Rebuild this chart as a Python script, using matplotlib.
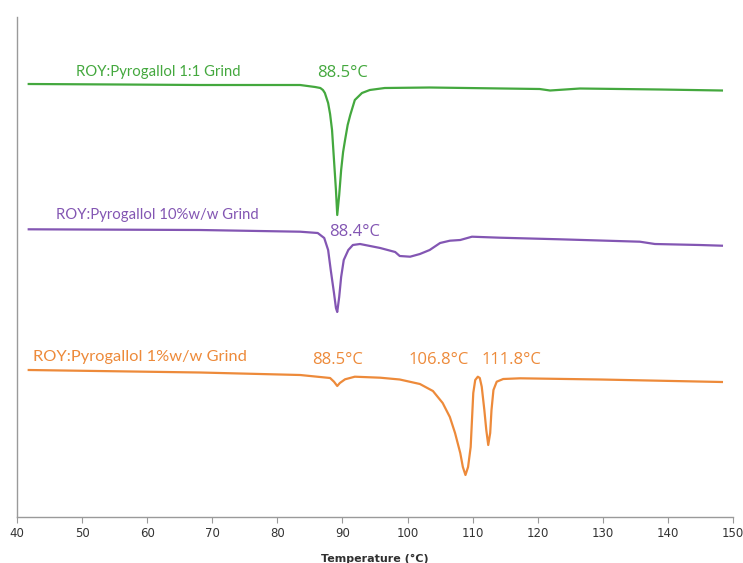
import matplotlib
matplotlib.use("Agg")
import matplotlib.pyplot as plt

# DSC traces, temperature (°C) vs heat flow (arbitrary, endo down, stacked offsets)
t_11 = [41.8, 55.8, 68.1, 83.5, 85.8, 86.6, 87.0, 87.3, 87.8, 88.1, 88.4, 88.7,
        89.0, 89.2, 89.5, 89.8, 90.1, 90.4, 90.8, 91.2, 91.9, 93.0, 94.2, 96.5,
        103.4, 120.3, 121.9, 126.5, 138.8, 148.3]
hf_11 = [43.3, 43.25, 43.2, 43.2, 43.0, 42.9, 42.7, 42.4, 41.4, 40.3, 38.7, 35.7,
         32.7, 30.2, 32.2, 34.7, 36.5, 37.7, 39.2, 40.2, 41.7, 42.4, 42.7, 42.9,
         42.95, 42.8, 42.65, 42.85, 42.75, 42.65]

t_10 = [41.8, 68.1, 83.5, 86.2, 87.2, 87.8, 88.2, 88.7, 89.0, 89.2, 89.5, 89.8,
        90.2, 90.9, 91.6, 92.7, 95.8, 98.1, 98.8, 100.4, 101.9, 103.4, 105.0,
        106.5, 108.1, 109.9, 114.2, 123.4, 135.7, 138.0, 144.9, 148.3]
hf_10 = [28.77, 28.7, 28.53, 28.4, 27.9, 26.7, 24.7, 22.4, 20.9, 20.5, 22.0, 24.0,
         25.7, 26.7, 27.2, 27.3, 26.9, 26.5, 26.1, 26.03, 26.3, 26.7, 27.4,
         27.63, 27.7, 28.03, 27.93, 27.77, 27.53, 27.3, 27.2, 27.13]

t_1 = [41.8, 68.1, 83.5, 88.1, 88.7, 89.2, 89.6, 90.4, 91.9, 95.8, 98.8, 101.9,
       103.9, 105.4, 106.5, 107.3, 108.1, 108.5, 108.9, 109.3, 109.7, 109.9,
       110.1, 110.4, 110.8, 111.1, 111.4, 111.8, 112.1, 112.4, 112.7, 112.9,
       113.2, 113.7, 114.7, 117.3, 129.6, 148.3]
hf_1 = [14.7, 14.45, 14.2, 13.9, 13.53, 13.1, 13.4, 13.77, 14.03, 13.93, 13.75, 13.3,
        12.6, 11.4, 10.0, 8.4, 6.4, 5.0, 4.2, 5.0, 7.0, 9.7,
        12.4, 13.7, 14.03, 13.9, 13.03, 10.7, 8.7, 7.2, 8.4, 10.7,
        12.7, 13.53, 13.8, 13.87, 13.75, 13.5]

names = ["ROY:Pyrogallol 1:1 Grind", "ROY:Pyrogallol 10%w/w Grind",
         "ROY:Pyrogallol 1%w/w Grind"]
colors = ["#44a83e", "#8356b3", "#ed8a3a"]

# peak labels: (text, x, y) per trace
peaks_11 = [("88.5°C", 90.0, 44.4)]
peaks_10 = [("88.4°C", 91.85, 28.5)]
peaks_1 = [("88.5°C", 89.2, 15.7), ("106.8°C", 104.8, 15.7), ("111.8°C", 115.9, 15.7)]

fig = plt.figure(figsize=(7.43, 5.63), dpi=100)
ax = fig.add_axes([0.0229, 0.0817, 0.9636, 0.8881])

series = [(t_11, hf_11, peaks_11), (t_10, hf_10, peaks_10), (t_1, hf_1, peaks_1)]
name_pos = [(49.0, 44.5), (46.0, 30.2), (42.5, 16.0)]
name_size = [10.7, 10.7, 11.8]
for (t, hf, pk), name, c, (nx, ny), fs in zip(series, names, colors, name_pos, name_size):
    ax.plot(t, hf, color=c, lw=1.6, solid_joinstyle="round")
    ax.text(nx, ny, name, color=c, fontsize=fs, family="Lato", va="center")
    for txt, px, py in pk:
        ax.text(px, py, txt, color=c, fontsize=12, family="Open Sans",
                ha="center", va="center")

ax.set_xlim(40, 150)
ax.set_ylim(0, 50)
ax.set_xticks(range(40, 151, 10))
ax.set_yticks([])
for s in ["top", "right"]:
    ax.spines[s].set_visible(False)
for s in ["left", "bottom"]:
    ax.spines[s].set_color("#9a9a9a")
    ax.spines[s].set_linewidth(1.0)
ax.tick_params(axis="x", colors="#9a9a9a", length=4, labelcolor="#333333",
               labelsize=8.5)
ax.set_xlabel("Temperature (°C)", fontsize=8, fontweight="bold", color="#303030",
              labelpad=10)

fig.savefig("out.png", dpi=100)
